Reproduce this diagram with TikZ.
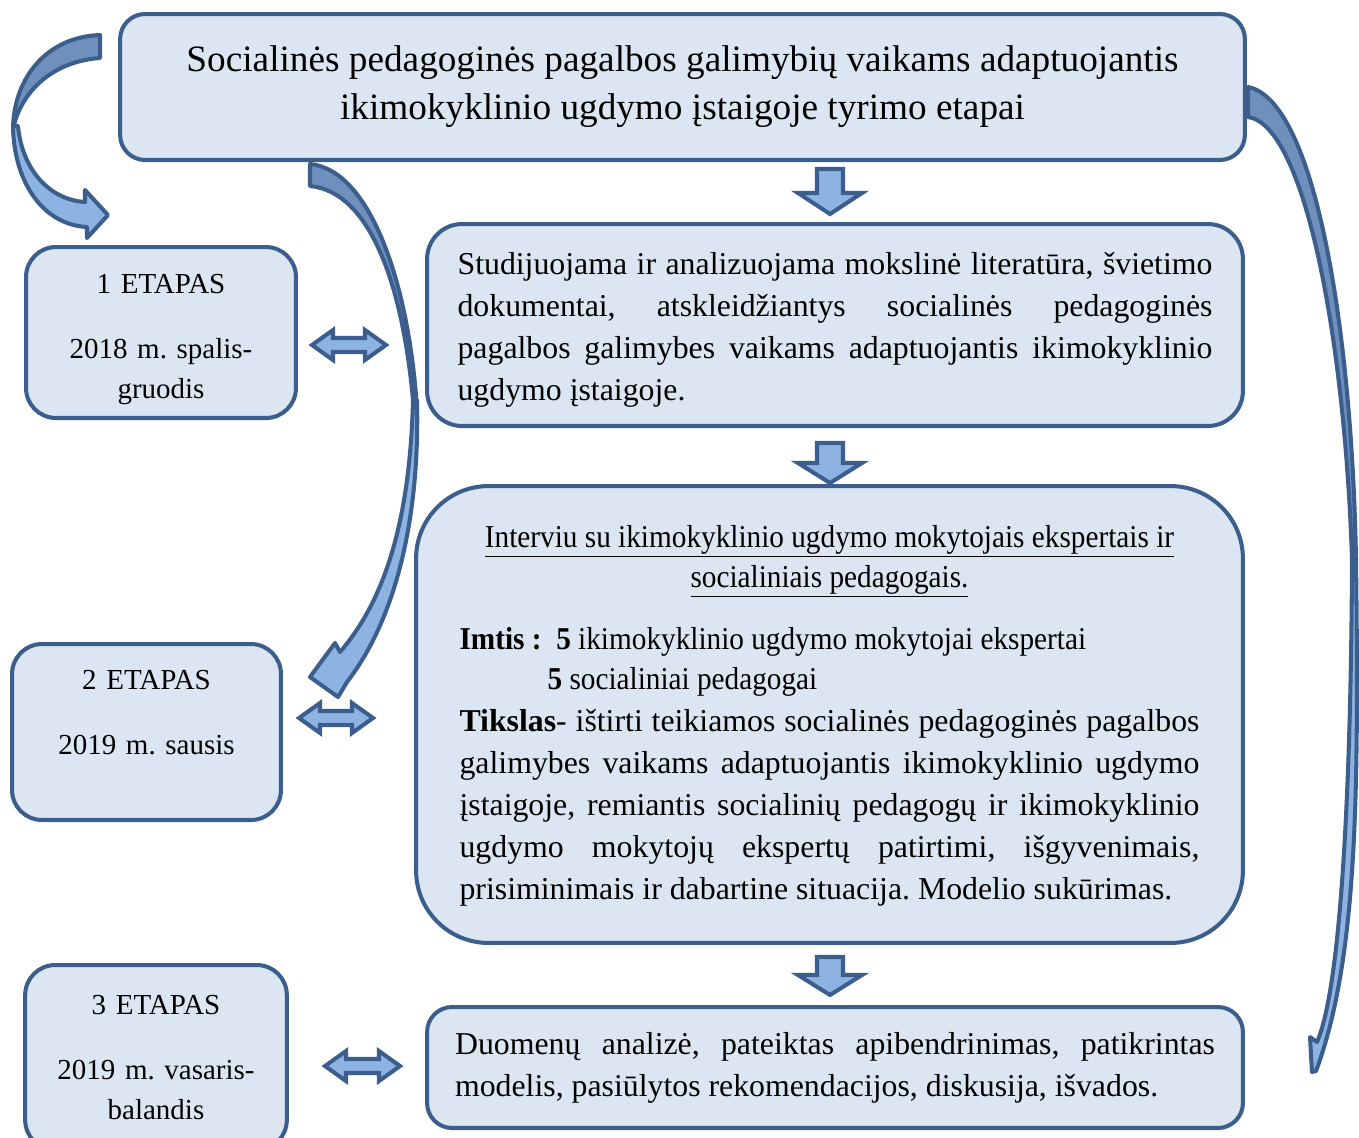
\documentclass[tikz,border=0pt]{standalone}
\usepackage{fontspec}
\setmainfont{Liberation Serif}
\usepackage{xcolor}
\usepackage{graphicx}
\frenchspacing

\definecolor{boxfill}{HTML}{DCE6F2}
\definecolor{boxline}{HTML}{3B5E8C}
\definecolor{arrowfill}{HTML}{8DB3E2}
\definecolor{arrowback}{HTML}{6F90BD}

\begin{document}
\begin{tikzpicture}[x=0.02cm,y=-0.02cm]
\tikzstyle{titlebox} = [rectangle, rounded corners=0.5cm, fill=boxfill, draw=boxline, line width=2.3pt, align=center, font=\fontsize{21.2}{27.3}\selectfont]
\tikzstyle{stagebox} = [rectangle, rounded corners=0.6cm, fill=boxfill, draw=boxline, line width=2.3pt, text width=5cm, align=center, font=\fontsize{16.5}{22.8}\selectfont]
\tikzstyle{workbox} = [rectangle, fill=boxfill, draw=boxline, line width=2.3pt, align=justify, font=\fontsize{18.1}{23.9}\selectfont]
\tikzstyle{blockarrow} = [fill=arrowfill, draw=boxline, line width=2.3pt, line join=miter]
\tikzstyle{curvefront} = [fill=arrowfill, draw=boxline, line width=2.3pt, line join=round]
\tikzstyle{curveback} = [fill=arrowback, draw=boxline, line width=2.3pt, line join=round]

\useasboundingbox (0,0) rectangle (1359,1137);

\node(title) [titlebox, minimum width=22.5cm, minimum height=2.92cm] at (682.5,87) {Socialinės pedagoginės pagalbos galimybių vaikams adaptuojantis\\ikimokyklinio ugdymo įstaigoje tyrimo etapai};
\node(stage1) [stagebox, minimum width=5.4cm, minimum height=3.42cm] at (161,332.5) {\par\kern-0.12cm\noindent 1 ETAPAS\\[0.5cm]2018 m. spalis-\\gruodis};
\node(stage2) [stagebox, minimum width=5.38cm, minimum height=3.52cm] at (146.5,732) {2 ETAPAS\\[0.5cm]2019 m. sausis\\~};
\node(stage3) [stagebox, minimum width=5.2cm, minimum height=3.7cm] at (156,1057.5) {3 ETAPAS\\[0.5cm]2019 m. vasaris-\\balandis};
\node(literature) [workbox, rounded corners=0.7cm, minimum width=16.32cm, minimum height=4.04cm, text width=15.1cm] at (835,325) {\par\kern-0.2cm\noindent Studijuojama ir analizuojama mokslinė literatūra, švietimo\linebreak dokumentai, atskleidžiantys socialinės pedagoginės\linebreak pagalbos galimybes vaikams adaptuojantis ikimokyklinio\linebreak ugdymo įstaigoje.};
\node(interview) [workbox, rounded corners=1.45cm, minimum width=16.54cm, minimum height=9.14cm, text width=14.8cm] at (829.5,714.5) {\par\addfontfeatures{FakeStretch=0.92}\fontsize{18.1}{22.8}\selectfont
\centerline{\underline{Interviu su ikimokyklinio ugdymo mokytojais ekspertais ir}}
\centerline{\underline{socialiniais pedagogais.}}
\vspace{0.44cm}
\noindent\textbf{Imtis :}\ \ \textbf{5} ikimokyklinio ugdymo mokytojai ekspertai\par
\noindent\hspace*{1.76cm}\textbf{5} socialiniai pedagogai\par
\normalfont\fontsize{18.1}{23.9}\selectfont
\noindent\textbf{Tikslas}- ištirti teikiamos socialinės pedagoginės pagalbos\linebreak galimybes vaikams adaptuojantis ikimokyklinio ugdymo\linebreak įstaigoje, remiantis socialinių pedagogų ir ikimokyklinio\linebreak ugdymo mokytojų ekspertų patirtimi, išgyvenimais,\linebreak prisiminimais ir dabartine situacija. Modelio sukūrimas.\par\kern0.32cm};
\node(analysis) [workbox, rounded corners=0.5cm, minimum width=16.32cm, minimum height=2.42cm, text width=15.2cm] at (835,1067.5) {Duomenų analizė, pateiktas apibendrinimas, patikrintas\linebreak modelis, pasiūlytos rekomendacijos, diskusija, išvados.};

% down arrows between the steps
\draw[blockarrow] (817,169) -- (843,169) -- (843,193) -- (862,193) -- (830,214) -- (798,193) -- (817,193) -- cycle;
\draw[blockarrow] (817,443) -- (843,443) -- (843,463) -- (862,463) -- (830,483) -- (798,463) -- (817,463) -- cycle;
\draw[blockarrow] (817,957) -- (843,957) -- (843,975) -- (862,975) -- (830,995) -- (798,975) -- (817,975) -- cycle;

% double arrows to the stages
\draw[blockarrow] (312,345) -- ++(21,-15) -- ++(0,8) -- ++(32,0) -- ++(0,-8) -- ++(21,15) -- ++(-21,15) -- ++(0,-8) -- ++(-32,0) -- ++(0,8) -- cycle;
\draw[blockarrow] (299,718) -- ++(21,-15) -- ++(0,8) -- ++(32,0) -- ++(0,-8) -- ++(21,15) -- ++(-21,15) -- ++(0,-8) -- ++(-32,0) -- ++(0,8) -- cycle;
\draw[blockarrow] (325,1066) -- ++(21,-15) -- ++(0,8) -- ++(33,0) -- ++(0,-8) -- ++(21,15) -- ++(-21,15) -- ++(0,-8) -- ++(-33,0) -- ++(0,8) -- cycle;

% curved arrows from the title
\draw[curveback] (100,35) .. controls (45,37) and (13,80) .. (13,130) .. controls (18,100) and (45,62) .. (100,58) -- cycle;
\draw[curvefront] (13,126) .. controls (14,185) and (45,225) .. (87,227) -- (87,238) -- (108,215) -- (85,190) -- (85,202) .. controls (50,200) and (22,170) .. (18,126) -- cycle;

\draw[curveback] (310,164) .. controls (372,170) and (410,290) .. (417,410) -- (413,400) .. controls (403,290) and (372,192) .. (310,186) -- cycle;
\draw[curvefront] (417,400) .. controls (420,520) and (395,620) .. (347,682) -- (338,697) -- (310,677) -- (335,643) -- (340,652) .. controls (385,600) and (410,520) .. (413,400) -- cycle;

\draw[curveback] (1248,87) .. controls (1315,100) and (1352,330) .. (1356,560) -- (1352,560) .. controls (1345,340) and (1305,125) .. (1248,117) -- cycle;
\draw[curvefront] (1356,560) .. controls (1359,800) and (1357,960) .. (1316,1071) -- (1312,1072) -- (1310,1037) -- (1317,1042) .. controls (1340,990) and (1351,800) .. (1352,560) -- cycle;
\end{tikzpicture}
\end{document}
